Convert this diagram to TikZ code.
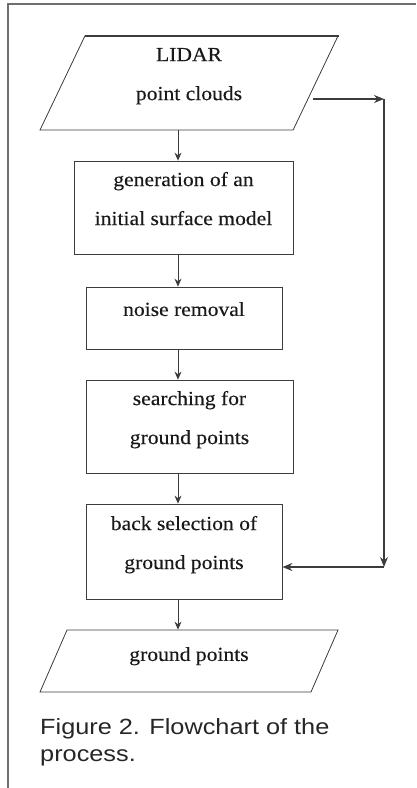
\documentclass[tikz,border=0pt]{standalone}
\usepackage{fontspec}
\usepackage{tikz}
\usetikzlibrary{shapes.geometric, arrows.meta, positioning}
\newfontfamily\boxfont[FakeStretch=1.08, FakeBold=0.3]{Liberation Serif}
\newfontfamily\capfont[FakeStretch=1.15]{Liberation Sans}
\definecolor{inkgray}{RGB}{60, 60, 60}
\definecolor{framegray}{RGB}{110, 110, 110}
\newcommand{\padbox}{\rule[-18pt]{0pt}{18pt}}

\begin{document}
\begin{tikzpicture}[x=1pt, y=-1pt]
        \tikzstyle{box} = [rectangle, draw=inkgray, line width=0.8pt, align=center, inner sep=0pt, text=black!90, font=\boxfont\fontsize{20}{39}\selectfont]
        \tikzstyle{io} = [trapezium, trapezium stretches body=true, draw=inkgray, line width=0.8pt, align=center, inner sep=0pt, minimum width=298pt, text=black!90, font=\boxfont\fontsize{20}{39}\selectfont]
        \tikzstyle{arrow} = [line width=0.8pt, draw=inkgray, -{Stealth[length=8pt, width=7pt]}]
        \tikzstyle{loopback} = [line width=1.6pt, draw=inkgray, -{Stealth[length=10pt, width=8pt]}]

        \useasboundingbox (0,0) rectangle (416,788);
        \draw [framegray, line width=1.5pt] (416,4) -- (8,4) -- (8,788);

        \coordinate (axis) at (178,0);
        \node (lidar) [io, trapezium left angle=57.4, trapezium right angle=122.6, minimum height=94pt] at (189,83) {LIDAR\\point clouds\padbox};
        \node (gen) [box, minimum width=219pt, minimum height=93pt] at (183.5,207.5) {generation of an\\initial surface model\padbox};
        \node (noise) [box, minimum width=196pt, minimum height=62pt] at (184,318) {noise removal\padbox};
        \node (search) [box, minimum width=207pt, minimum height=93pt] at (189.5,426.5) {searching for\\ground points\padbox};
        \node (back) [box, minimum width=196pt, minimum height=95pt] at (184,551.5) {back selection of\\ground points\padbox};
        \node (ground) [io, trapezium left angle=45.9, trapezium right angle=134.1, minimum height=62pt] at (189,661) {ground points\rule[-14pt]{0pt}{14pt}};
        \node (caption) [anchor=north west, align=left, inner sep=0pt, text=black!85, font=\capfont\fontsize{22}{27}\selectfont] at (40,718) {Figure 2. Flowchart of the\\process.};

        \draw [inkgray, line width=1.8pt] (lidar.top left corner) -- (lidar.top right corner);

        \draw [arrow] (lidar.south -| axis) -- (gen.north -| axis);
        \draw [arrow] (gen.south -| axis) -- (noise.north -| axis);
        \draw [arrow] (noise.south -| axis) -- (search.north -| axis);
        \draw [arrow] (search.south -| axis) -- (back.north -| axis);
        \draw [arrow] (back.south -| axis) -- (ground.north -| axis);

        % loop back from the input to the last selection step
        \coordinate (turn) at (384,99);
        \coordinate (join) at (384,567);
        \draw [loopback] ([xshift=-3pt, yshift=-16pt]lidar.east) -- (turn);
        \draw [loopback] (turn) -- (join);
        \draw [loopback] (join) -- (back.east |- join);
    \end{tikzpicture}
\end{document}
